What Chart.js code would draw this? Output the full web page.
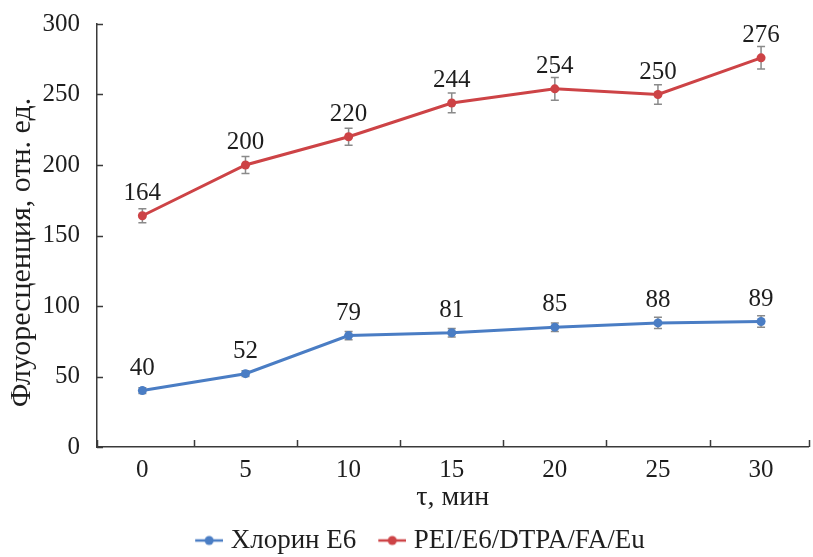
<!DOCTYPE html>
<html>
<head>
<meta charset="utf-8">
<script src="https://cdn.jsdelivr.net/npm/chart.js@4/dist/chart.umd.min.js"></script>
<style>
  html, body { margin: 0; padding: 0; background: #ffffff; }
  #wrap { width: 813px; height: 557px; }
</style>
</head>
<body>
<div id="wrap"><canvas id="chart" width="813" height="557"></canvas></div>
<script>
// Time points, min
const categories = [0, 5, 10, 15, 20, 25, 30];

// Chlorin E6 fluorescence and its spread
const chlorinValues = [40, 52, 79, 81, 85, 88, 89];
const chlorinErrors = [2, 2, 3, 3, 3, 4, 4];

// PEI/E6/DTPA/FA/Eu fluorescence and its spread
const conjugateValues = [164, 200, 220, 244, 254, 250, 276];
const conjugateErrors = [5, 6, 6, 7, 8, 7, 8];

// Axis ranges
const xMin = -2.2;
const xMax = 32.3;
const yMin = 0;
const yMax = 300;
const yStep = 50;

const Y_TITLE = 'Флуоресценция, отн. ед.';

const FONT = '"Liberation Serif", "Times New Roman", serif';
const INK = '#1e1e1e';
const AXIS = '#3a3a3a';
const BLUE = '#4a7dc4';
const RED = '#cd4346';
const ERR = '#8a8a8a';

const toPoints = (vals) => categories.map((t, i) => ({ x: t, y: vals[i] }));

// Line-with-dot marker for the legend (left margin keeps the text close)
function legendMarker(color) {
  const c = document.createElement('canvas');
  c.width = 40; c.height = 12;
  const g = c.getContext('2d');
  g.strokeStyle = color;
  g.lineWidth = 2.5;
  g.beginPath(); g.moveTo(12, 6); g.lineTo(40, 6); g.stroke();
  g.fillStyle = color;
  g.beginPath(); g.arc(26, 6, 4.5, 0, Math.PI * 2); g.fill();
  return c;
}

// Vertical error bars with caps, drawn under the markers
const errorBarPlugin = {
  id: 'errorBars',
  beforeDatasetsDraw(chart) {
    const ctx = chart.ctx;
    const y = chart.scales.y;
    ctx.save();
    ctx.strokeStyle = ERR;
    ctx.lineWidth = 1.5;
    chart.data.datasets.forEach((ds, di) => {
      const meta = chart.getDatasetMeta(di);
      meta.data.forEach((pt, i) => {
        const v = ds.data[i].y;
        const e = ds.errors[i];
        const top = y.getPixelForValue(v + e);
        const bot = y.getPixelForValue(v - e);
        const x = pt.x;
        ctx.beginPath();
        ctx.moveTo(x, top); ctx.lineTo(x, bot);
        ctx.moveTo(x - 4, top); ctx.lineTo(x + 4, top);
        ctx.moveTo(x - 4, bot); ctx.lineTo(x + 4, bot);
        ctx.stroke();
      });
    });
    ctx.restore();
  }
};

// Value labels above each point
const valueLabelPlugin = {
  id: 'valueLabels',
  afterDatasetsDraw(chart) {
    const ctx = chart.ctx;
    ctx.save();
    ctx.fillStyle = INK;
    ctx.font = '25px ' + FONT;
    ctx.textAlign = 'center';
    ctx.textBaseline = 'alphabetic';
    chart.data.datasets.forEach((ds, di) => {
      const meta = chart.getDatasetMeta(di);
      meta.data.forEach((pt, i) => {
        ctx.fillText(String(ds.data[i].y), pt.x, pt.y - 16);
      });
    });
    ctx.restore();
  }
};

// Inward tick marks: y at each value, x between the time points and at both ends
const innerTicksPlugin = {
  id: 'innerTicks',
  afterDraw(chart) {
    const ctx = chart.ctx;
    const xs = chart.scales.x;
    const ys = chart.scales.y;
    const area = chart.chartArea;
    ctx.save();
    ctx.strokeStyle = AXIS;
    ctx.lineWidth = 1.5;
    ctx.beginPath();
    ys.ticks.forEach((t, i) => {
      const py = Math.round(ys.getPixelForTick(i)) + 0.5;
      ctx.moveTo(area.left, py); ctx.lineTo(area.left + 6, py);
    });
    const marks = [area.left, area.right];
    for (let i = 1; i < categories.length; i++) {
      marks.push(xs.getPixelForValue((categories[i - 1] + categories[i]) / 2));
    }
    marks.forEach((m) => {
      const px = Math.round(m) + 0.5;
      ctx.moveTo(px, area.bottom); ctx.lineTo(px, area.bottom - 7);
    });
    ctx.stroke();
    ctx.restore();
  }
};

// Rotated y axis title, sitting slightly below the plot's vertical centre
const yTitlePlugin = {
  id: 'yTitle',
  afterDraw(chart) {
    const ctx = chart.ctx;
    const area = chart.chartArea;
    ctx.save();
    ctx.translate(22, (area.top + area.bottom) / 2 + 17);
    ctx.rotate(-Math.PI / 2);
    ctx.fillStyle = INK;
    ctx.font = '30px ' + FONT;
    ctx.textAlign = 'center';
    ctx.textBaseline = 'middle';
    ctx.fillText(Y_TITLE, 0, 0);
    ctx.restore();
  }
};

// Place the legend row under the plot centre and close to the bottom edge
const legendShiftPlugin = {
  id: 'legendShift',
  afterLayout(chart) {
    const lg = chart.legend;
    if (!lg) return;
    lg.left += 24;
    lg.top -= 3;
    lg.bottom -= 3;
  }
};

new Chart(document.getElementById('chart'), {
  type: 'line',
  data: {
    datasets: [
      {
        label: 'Хлорин E6',
        data: toPoints(chlorinValues),
        errors: chlorinErrors,
        borderColor: BLUE,
        backgroundColor: BLUE,
        borderWidth: 3,
        pointRadius: 4.5,
        pointHoverRadius: 4.5,
        pointBorderWidth: 0,
        tension: 0,
        fill: false
      },
      {
        label: 'PEI/E6/DTPA/FA/Eu',
        data: toPoints(conjugateValues),
        errors: conjugateErrors,
        borderColor: RED,
        backgroundColor: RED,
        borderWidth: 3,
        pointRadius: 4.5,
        pointHoverRadius: 4.5,
        pointBorderWidth: 0,
        tension: 0,
        fill: false
      }
    ]
  },
  options: {
    responsive: false,
    animation: false,
    devicePixelRatio: 1,
    layout: { padding: { top: 20, right: 3, left: 0, bottom: -10 } },
    plugins: {
      tooltip: { enabled: false },
      legend: {
        position: 'bottom',
        labels: {
          usePointStyle: true,
          pointStyleWidth: 28,
          boxHeight: 12,
          padding: 16,
          color: INK,
          font: { family: FONT, size: 27 },
          generateLabels(chart) {
            return chart.data.datasets.map((ds, i) => ({
              text: ds.label,
              pointStyle: legendMarker(ds.borderColor),
              fillStyle: ds.borderColor,
              strokeStyle: ds.borderColor,
              lineWidth: 0,
              hidden: false,
              datasetIndex: i,
              fontColor: INK
            }));
          }
        }
      }
    },
    scales: {
      x: {
        type: 'linear',
        min: xMin,
        max: xMax,
        grid: { display: false },
        border: { display: true, color: AXIS, width: 1.5 },
        ticks: { color: INK, font: { family: FONT, size: 25 }, padding: 0, maxRotation: 0 },
        afterBuildTicks(scale) { scale.ticks = categories.map((v) => ({ value: v })); },
        title: {
          display: true,
          text: 'τ, мин',
          color: INK,
          font: { family: FONT, size: 28 },
          padding: { top: 0, bottom: 0 }
        },
        afterFit(scale) { scale.height = 67; }
      },
      y: {
        min: yMin,
        max: yMax,
        grid: { display: false },
        border: { display: true, color: AXIS, width: 1.5 },
        ticks: { stepSize: yStep, color: INK, font: { family: FONT, size: 25 }, padding: 9 },
        title: { display: false },
        afterFit(scale) { scale.width = 97; }
      }
    }
  },
  plugins: [errorBarPlugin, valueLabelPlugin, innerTicksPlugin, yTitlePlugin, legendShiftPlugin]
});
</script>
</body>
</html>
